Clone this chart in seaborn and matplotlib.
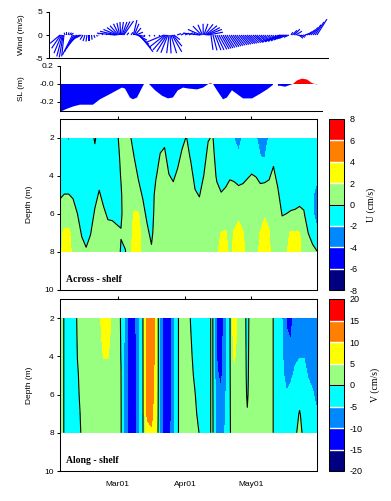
import numpy as np
import pandas as pd
import matplotlib
matplotlib.use("Agg")
import matplotlib.pyplot as plt
import matplotlib.dates as mdates
import seaborn as sns

# ---------------- data ----------------
# wind sticks (day number counted from 2001-02-01, u and v in m/s)
wind_day = [1.3, 1.6, 2.0, 2.4, 2.75, 3.1,
            3.6, 4.3, 5.0, 5.65, 6.3,
            7.0, 7.7, 8.4, 9.1, 9.8, 10.5, 11.2,
            11.9, 12.8, 13.7, 14.6, 15.8, 16.9, 18.1, 19.2,
            20.6, 22.5, 24.3, 25.9,
            26.6, 27.0, 27.35, 27.7, 28.1, 28.45, 28.8, 29.2, 29.55, 29.9, 30.3, 30.7,
            32.1, 34.0,
            35.1, 35.5, 35.9, 36.25, 36.6, 37.0, 37.35, 37.7, 38.1,
            40.0, 42.3, 44.6, 46.9,
            49.2, 49.65, 50.1, 50.6, 51.0, 51.5, 52.0, 52.4, 52.9, 53.3, 53.8,
            55.2, 57.0, 58.9, 60.7, 62.6, 64.4,
            65.8, 66.1, 66.5, 66.9, 67.3, 67.6, 68.0, 68.4, 68.7, 69.1, 69.5,
            70.86, 71.78, 72.7, 73.6, 74.5, 75.5, 76.4, 77.3, 78.2, 79.2,
            80.1, 81.0, 81.9, 82.8, 83.8, 84.7, 85.6, 86.5, 87.4, 88.3,
            89.2, 90.2, 91.1, 92.0, 93.0, 93.9, 94.8, 95.7, 96.7, 97.6,
            98.5, 99.4, 100.4, 101.3, 102.2,
            102.7, 103.3, 104.0, 104.7, 105.4, 106.1, 106.8,
            107.7, 108.4, 109.1, 109.8, 110.5, 111.4, 112.3, 113.3,
            114.2, 115.1, 116.0, 116.9, 117.9, 118.8, 119.7]
wind_u = [-2.14, -1.95, -1.63, -1.22, -0.84, -0.49,
          -0.21, 0.0, 0.21, 0.43, 0.54,
          -2.14, -2.03, -1.93, -1.82, -1.71, -1.5, -1.18,
          -0.64, -0.43, -0.21, 0.0, 0.11, 0.21, 0.21, 0.21,
          0.21, 0.21, 0.21, 0.1,
          -3.85, -3.38, -2.81, -2.23, -1.76, -1.18, -0.6, -0.13, 0.45, 1.03, 1.5, 2.08,
          0.43, 0.43,
          0.75, 1.0, 1.26, 1.52, 1.78, 2.03, 2.29, 2.55, 2.8,
          0.21, 0.21, 0.21, 0.21,
          -3.64, -3.21, -2.78, -2.21, -1.5, -0.49, 0.21, 1.22, 2.08, 1.93, 1.28,
          0.86, 0.86, 0.86, 0.86, 0.43, 0.21,
          -3.64, -2.74, -1.84, -0.94, -0.04, 0.86, 1.76, 2.44, 2.91, 3.17, 3.21,
          0.43, 0.86, 1.28, 1.5, 1.71, 1.71, 1.71, 1.71, 1.71, 1.71,
          1.71, 1.71, 1.71, 1.71, 1.71, 1.71, 1.71, 1.71, 1.71, 1.71,
          1.71, 1.71, 1.71, 1.5, 1.5, 1.28, 1.28, 1.07, 1.07, 0.86,
          0.86, 0.64, 0.64, 0.43, 0.43,
          -3.85, -3.53, -3.21, -2.89, -2.36, -1.82, -1.07,
          0.43, 0.96, 1.28, 1.39, 1.28, 0.86, 0.86, 0.64,
          0.86, 1.07, 1.28, 1.5, 1.71, 1.93, 2.14]
wind_v = [-1.8, -2.85, -3.9, -4.6, -4.8, -4.6,
          0.5, 0.55, 0.55, 0.5, 0.4,
          -4.3, -3.6, -2.9, -2.2, -1.5, -0.9, -0.6,
          -1.0, -1.3, -1.4, -1.3, -1.0, -0.6, -0.3, 0.1,
          0.3, 0.3, 0.3, 0.3,
          0.4, 0.8, 1.2, 1.6, 2.0, 2.4, 2.6, 2.8, 2.8, 2.8, 2.9, 3.0,
          0.5, 0.6,
          3.2, 2.4, 1.5, 0.6, -0.3, -1.1, -2.0, -2.8, -3.6,
          -0.3, -0.3, -0.3, -0.3,
          -1.5, -2.5, -3.2, -3.6, -3.8, -3.9, -3.95, -3.9, -3.6, -2.4, -1.0,
          0.3, 0.4, 0.4, 0.5, 0.5, 0.4,
          0.4, 1.2, 1.9, 2.2, 2.4, 2.4, 2.3, 2.0, 1.6, 1.2, 0.6,
          -3.2, -3.3, -3.25, -3.2, -3.1, -3.0, -2.9, -2.8, -2.7, -2.6,
          -2.5, -2.4, -2.3, -2.2, -2.15, -2.05, -2.0, -1.9, -1.85, -1.8,
          -1.7, -1.65, -1.6, -1.55, -1.5, -1.45, -1.4, -1.35, -1.3, -1.2,
          -1.1, -1.0, -0.9, -0.8, -0.7,
          -1.4, -1.3, -1.2, -1.05, -0.9, -0.7, -0.5,
          0.6, 1.0, 1.25, 0.8, -0.2, -0.7, -0.5, -0.2,
          0.3, 0.7, 1.1, 1.6, 2.2, 2.8, 3.4]

# sea level
nan = np.nan
sl_day = [1.3, 4.0, 7.3, 10.5, 16.5, 19.7, 22.9, 27.5, 29.8, 31.2, 33.5, 34.9, 36.8, 39.1, 40.0,
          41.0, 42.3, 42.7, 45.1, 48.3, 51.0, 53.3, 55.6, 58.0, 60.3, 64.4, 67.2, 69.0, 70.4, 71.8,
          73.6, 76.4, 78.2, 80.5, 82.8, 85.6, 89.8, 93.4, 96.7, 99.4,
          100.5, 101.7, 102.7, 105.0, 107.3, 108.6, 110.5, 112.8, 115.1, 117.4, 118.8, 119.7]
sl_val = [-0.31, -0.28, -0.25, -0.23, -0.23, -0.17, -0.13, -0.07, -0.04, -0.05, -0.15, -0.17, -0.15, -0.04, 0.0,
          nan, 0.0, -0.01, -0.07, -0.13, -0.16, -0.15, -0.07, -0.04, -0.05, -0.06, -0.04, -0.01, 0.01, 0.0,
          -0.07, -0.17, -0.15, -0.07, -0.11, -0.16, -0.16, -0.11, -0.06, -0.01,
          nan, -0.02, -0.02, -0.03, -0.01, 0.0, 0.04, 0.06, 0.05, 0.01, 0.0, -0.005]

# current sections: sample every 2 days, depths 2..8 m
grid_day = np.arange(1.5, 120, 2.0)
depth_m = [2, 3, 4, 5, 6, 7, 8]

u_2m = [-1.5, -1.5, -2.2, -1.6, -1.3, -1.3, -1.3, -1.2, 0.3, -1.2,
        -1.2, -1.2, -1.2, -0.3, 0.5, 0.6, 0.4, -1.0, -1.2, -1.3,
        -1.3, -1.3, -1.2, -0.8, -0.5, -1.2, -1.2, -1.2, -0.6, 0.1,
        -1.0, -1.2, -1.2, -1.2, -0.2, 0.2, -1.2, -1.2, -1.2, -1.3,
        -2.05, -2.4, -1.9, -1.3, -1.3, -1.9, -2.5, -2.5, -1.9, -1.3,
        -1.3, -1.3, -1.3, -1.3, -1.3, -1.3, -1.3, -1.5, -1.5, -1.5]
u_3m = [-1.5, -1.5, -1.5, -1.5, -1.3, -1.3, -1.3, -1.2, -0.7, -1.2,
        -1.2, -1.2, -1.2, -0.6, 0.3, 0.8, 0.8, 0.02, -1.2, -1.3,
        -1.3, -1.3, -1.2, 0.2, 0.5, -0.9, -1.2, -0.6, 0.4, 0.9,
        -0.2, -1.2, -1.2, -0.98, 0.8, 1.0, -1.2, -1.2, -1.2, -1.3,
        -1.5, -1.8, -1.5, -1.3, -0.9, -1.05, -1.98, -2.05, -1.5, -0.5,
        -1.3, -1.3, -1.3, -1.3, -1.3, -1.3, -1.3, -1.5, -1.5, -1.5]
u_4m = [-1.2, -0.95, -0.95, -1.2, -1.2, -1.3, -1.3, -1.2, -1.2, -0.75,
        -1.2, -1.2, -1.2, -0.9, 0.1, 0.9, 1.0, 1.0, -0.2, -1.2,
        -1.3, -1.3, -0.2, 1.0, 1.2, 0.1, -0.3, 0.4, 1.1, 1.2,
        0.8, -0.7, -1.1, 0.02, 1.2, 1.2, -0.3, -0.85, -0.6, -0.2,
        -0.3, -0.5, -0.4, -0.15, 0.1, -0.05, -0.4, -0.35, -0.2, 0.5,
        -0.6, -1.3, -1.3, -1.3, -1.3, -1.3, -1.3, -1.6, -1.7, -1.8]
u_5m = [-0.2, 0.05, 0.05, -0.2, -0.98, -1.3, -1.3, -1.2, -0.7, 0.25,
        -0.6, -1.2, -1.2, -1.0, -0.2, 1.0, 1.2, 1.5, 0.8, -0.2,
        -1.3, -1.3, 0.8, 1.3, 1.3, 1.0, 0.7, 1.2, 1.3, 1.3,
        1.2, 0.3, -0.1, 1.0, 1.3, 1.3, 0.7, 0.15, 0.4, 0.8,
        0.7, 0.5, 0.6, 0.85, 1.0, 0.95, 0.6, 0.65, 0.8, 1.2,
        0.4, -1.1, -0.98, -0.9, -0.75, -0.6, -0.8, -1.7, -1.95, -2.4]
u_6m = [0.8, 1.05, 1.05, 0.8, 0.02, -1.2, -1.3, -1.1, 0.3, 1.2,
        0.4, -0.3, -0.35, -0.55, -0.3, 1.0, 1.3, 2.1, 2.1, 0.8,
        -0.5, -1.3, 1.3, 1.4, 1.4, 1.3, 1.3, 1.3, 1.3, 1.3,
        1.3, 1.2, 0.9, 1.3, 1.3, 1.3, 1.3, 1.15, 1.3, 1.3,
        1.5, 1.8, 1.5, 1.3, 1.3, 1.3, 1.5, 1.9, 1.6, 1.3,
        1.2, -0.1, 0.02, 0.2, 0.25, 0.4, 0.2, -1.5, -1.9, -2.3]
u_7m = [1.5, 2.3, 2.3, 1.5, 1.0, -0.2, -0.75, -0.1, 1.2, 1.3,
        1.2, 0.7, 0.65, 0.45, 0.1, 0.6, 1.4, 2.5, 2.5, 1.5,
        0.5, -0.6, 1.4, 1.4, 1.4, 1.4, 1.4, 1.4, 1.4, 1.4,
        1.4, 1.4, 1.3, 1.4, 1.4, 1.4, 1.5, 2.05, 2.1, 1.6,
        2.1, 2.3, 2.05, 1.6, 1.5, 1.6, 2.05, 2.35, 2.1, 1.4,
        1.4, 0.9, 1.5, 2.2, 2.2, 2.05, 1.2, -0.02, -0.6, -1.9]
u_8m = [1.6, 2.6, 2.5, 1.6, 1.5, 0.8, 0.25, 0.9, 1.4, 1.3,
        1.3, 1.2, 1.2, 1.0, -0.2, -0.1, 1.4, 2.6, 2.6, 1.6,
        1.3, 0.4, 1.4, 1.4, 1.4, 1.4, 1.4, 1.4, 1.4, 1.4,
        1.4, 1.4, 1.4, 1.4, 1.4, 1.4, 1.8, 2.4, 2.4, 1.7,
        2.3, 2.4, 2.2, 1.7, 1.6, 1.7, 2.2, 2.4, 2.2, 1.4,
        1.4, 1.3, 1.9, 2.4, 2.4, 2.2, 1.4, 1.0, 0.4, 0.1]

v_2m = [2, -0.3, -5.5, -2.5, 0.5, 1.5, 2, 2.5, 3, 4,
        7, 7, 4, 2, -0.3, -7, -12, -12.5, -6, -0.5,
        12.5, 13, 8, -6, -13, -13, -7, -0.5, 2, 2,
        -0.2, -2.0, -2.5, -2.5, -1.5, 1.0, -11, -13, -7, -0.3,
        8, 3, 1.5, -0.8, 1.5, 2, 2, 2, 1.5, -0.1,
        -3, -5.1, -10.5, -11.5, -8, -7, -7, -7.5, -8, -8]
v_3m = [2, -0.3, -5.2, -2.5, 0.3, 1.4, 2, 2.5, 3, 3.8,
        6, 6, 3.8, 2, -0.2, -7, -12.5, -13, -6.5, -0.5,
        12.5, 13, 8, -6, -13, -13, -7, -0.5, 2, 2,
        0.2, -1.6, -2.5, -2.5, -1.5, 1.0, -10.5, -12.5, -6.5, -0.3,
        7, 3, 1.5, -0.7, 1.5, 2, 2, 2, 1.5, -0.1,
        -3, -4.8, -9.5, -10.2, -7, -6, -6.5, -7, -7.5, -8]
v_4m = [2, -0.3, -4.5, -2.5, 0.05, 1.2, 2, 2.5, 3, 3.5,
        5.1, 5.1, 3.5, 2, -0.1, -7.5, -13, -13, -7, -0.6,
        12.5, 13, 8, -6, -13, -13, -7, -0.5, 2, 2,
        0.5, -1.0, -2.3, -2.5, -1.5, 1.0, -10.1, -12, -6, -0.3,
        5.6, 2.5, 1.5, -0.6, 1.5, 2, 2, 2, 1.5, -0.1,
        -3, -4.5, -8, -8, -5.5, -5.2, -5.1, -6.5, -7, -7.5]
v_5m = [2, -0.3, -4, -2.5, -0.3, 1.0, 2, 2.5, 3, 3.3,
        4, 4, 3.3, 2, 0.1, -7.5, -13, -13, -7, -0.6,
        12, 12.5, 8, -6, -13, -13, -7, -0.5, 2, 2,
        0.8, -0.5, -2.0, -2.5, -1.5, 1.0, -9.5, -11, -6, -0.3,
        4, 2.5, 1.5, -0.5, 1.5, 2, 2, 2, 1.5, -0.1,
        -3, -4, -6.5, -5.5, -4.5, -3.5, -4.2, -5.2, -5.6, -6.5]
v_6m = [2, -0.3, -3.5, -2.5, -0.5, 0.8, 2, 2.5, 2.8, 3,
        3.5, 3.5, 3, 2, 0.2, -7.5, -13, -13, -7, -0.6,
        11.5, 12, 7.5, -6, -13, -13, -7, -0.5, 2, 2,
        1.0, 0.1, -1.5, -2.5, -1.5, 1.0, -8.5, -9.5, -5.5, -0.3,
        3, 2.5, 1.5, -0.3, 1.5, 2, 2, 2, 1.5, -0.1,
        -3, -3.5, -4.7, -4.2, -3, -1.5, -3, -4.2, -4.8, -5.8]
v_7m = [2, -0.3, -3.5, -2.5, -0.8, 0.5, 2, 2.5, 2.8, 3,
        3.2, 3.2, 3, 2, 0.3, -7.5, -13, -13, -7, -0.6,
        10.5, 11, 7, -6, -13, -13, -7, -0.5, 2, 2,
        1.3, 0.5, -0.8, -2.5, -1.5, 1.0, -7.5, -8, -5, -0.3,
        2.5, 2.5, 1.5, 0.15, 1.5, 2, 2, 2, 1.5, -0.1,
        -3, -3, -3.5, -2.5, -1.5, 0.3, -1.5, -3, -4, -4.8]
v_8m = [2, -0.3, -3.5, -2.5, -1.0, 0.3, 2, 2.5, 2.8, 3,
        3, 3, 3, 2, 0.3, -7.5, -12.5, -12.5, -7, -0.6,
        9, 9.5, 6, -6, -13, -12.5, -7, -0.5, 2, 2,
        1.5, 1.0, -0.1, -2.5, -1.5, 1.0, -7, -7, -4.5, -0.3,
        2, 2.5, 1.5, 1.0, 1.5, 2, 2, 2, 1.5, -0.1,
        -3, -2.5, -2, -0.8, -0.5, 1.0, -0.8, -2, -3, -3.5]

u_levels = [-8, -6, -4, -2, 0, 2, 4, 6, 8]
v_levels = [-20, -15, -10, -5, 0, 5, 10, 15, 20]
band_colors = ['#000080', '#0000ff', '#0088ff', '#00ffff',
               '#98ff80', '#ffff00', '#ff8000', '#ff0000']
depth_ticks = [2, 4, 6, 8, 10]
wind_ticks = [-5, 0, 5]
wind_ticklabels = ['-5', '0', '5']
sl_ticks = [-0.2, 0.0, 0.2]
sl_ticklabels = ['-0.2', '-0.0', '0.2']

n_w = min(len(wind_day), len(wind_u), len(wind_v))

# ---------------- style ----------------
sns.set_theme(style='ticks', rc={'axes.edgecolor': 'black', 'axes.linewidth': 0.75,
                                 'xtick.color': 'black', 'ytick.color': 'black',
                                 'text.color': 'black', 'axes.labelcolor': 'black'})
plt.rcParams['font.family'] = ['Liberation Sans', 'DejaVu Sans']
plt.rcParams['axes.unicode_minus'] = False

W, H = 391.0, 501.0
def rect(l, t, r, b):
    return [l / W, 1 - b / H, (r - l) / W, (b - t) / H]

fig = plt.figure(figsize=(3.91, 5.01), dpi=100)
base = mdates.date2num(pd.Timestamp('2001-02-01'))
fs = 6
days_per_ms = 2.15   # horizontal stick scale: 1 m/s drawn like 1 m/s vertically

# ---------------- wind sticks ----------------
axw = fig.add_axes(rect(49, 11.7, 328, 58.3))
tw = base + np.asarray(wind_day[:n_w], float)
axw.quiver(tw, np.zeros_like(tw), np.asarray(wind_u[:n_w]) * days_per_ms,
           np.asarray(wind_v[:n_w]),
           angles='xy', scale_units='xy', scale=1, headwidth=0, headlength=0,
           headaxislength=0, width=0.0042, color='#0000ff', pivot='tail')
axw.set_xlim(base - 3.8, base + 124.8)
axw.set_ylim(-5, 5)
axw.spines[['top', 'right']].set_visible(False)
axw.set_xticks([])
axw.set_yticks(wind_ticks)
axw.set_yticklabels(wind_ticklabels)
axw.tick_params(axis='y', labelsize=fs, length=2.5, width=0.75, pad=2)
axw.set_ylabel('Wind (m/s)', fontsize=fs)
axw.yaxis.set_label_coords((25 - 49) / 279, 0.5)

# ---------------- sea level ----------------
axs = fig.add_axes(rect(60, 66, 322, 111))
ts = base + np.asarray(sl_day)
sv = np.asarray(sl_val)
axs.fill_between(ts, 0, sv, where=~(sv > 0), interpolate=True, color='#0000ff', lw=0)
axs.fill_between(ts, 0, sv, where=~(sv < 0), interpolate=True, color='#ff0000', lw=0)
axs.set_xlim(base + 1.3, base + 122.0)
axs.set_ylim(-0.3, 0.2)
axs.spines[['top', 'right']].set_visible(False)
axs.set_xticks([])
axs.set_yticks(sl_ticks)
axs.set_yticklabels(sl_ticklabels)
axs.tick_params(axis='y', labelsize=fs, length=2.5, width=0.75, pad=2)
axs.set_ylabel('SL (m)', fontsize=fs)
axs.yaxis.set_label_coords((25 - 60) / 262, 0.5)

# ---------------- sections ----------------
X = base + grid_day
U = np.array([u_2m, u_3m, u_4m, u_5m, u_6m, u_7m, u_8m])
V = np.array([v_2m, v_3m, v_4m, v_5m, v_6m, v_7m, v_8m])

def section(top, bottom, Z, levels, label, title, show_dates):
    ax = fig.add_axes(rect(60, top, 317, bottom))
    cf = ax.contourf(X, depth_m, Z, levels=levels, colors=band_colors)
    cl = ax.contour(X, depth_m, Z, levels=[0], colors='black', linewidths=0.8)
    ax.set_xlim(X[0], X[-1])
    ax.set_ylim(10, 1)
    ax.set_yticks(depth_ticks)
    ax.tick_params(axis='y', labelsize=fs, length=2.5, width=0.75, pad=2, direction='out')
    ax.xaxis.set_major_locator(mdates.MonthLocator(bymonth=[3, 4, 5]))
    ax.xaxis.set_major_formatter(mdates.DateFormatter('%b%y'))
    ax.tick_params(axis='x', top=True, bottom=False, labeltop=False,
                   labelbottom=show_dates, labelsize=fs, length=2.5, width=0.75,
                   direction='out', pad=5)
    ax.set_ylabel('Depth (m)', fontsize=fs)
    ax.yaxis.set_label_coords((33 - 60) / 257, 0.5)
    ax.text(0.023, 0.06, title, transform=ax.transAxes, fontsize=7,
            fontweight='bold', family='Liberation Serif', va='center')
    cax = fig.add_axes(rect(329, top, 344, bottom))
    cb = fig.colorbar(cf, cax=cax, ticks=levels, drawedges=True)
    cb.dividers.set_color('white')
    cb.dividers.set_linewidth(1.0)
    cb.add_lines(cl)
    cb.outline.set_linewidth(0.75)
    cb.ax.tick_params(length=0, labelsize=6.5, pad=4)
    cb.ax.set_yticklabels([str(l) for l in levels])
    cb.set_label(label, family='Liberation Serif', fontsize=7, labelpad=6)
    return ax

axu = section(119, 290, U, u_levels, 'U (cm/s)', 'Across - shelf', False)
axv = section(299, 471, V, v_levels, 'V (cm/s)', 'Along - shelf', True)

fig.savefig('out.png', dpi=100)
print(len(wind_day), len(wind_u), len(wind_v))
